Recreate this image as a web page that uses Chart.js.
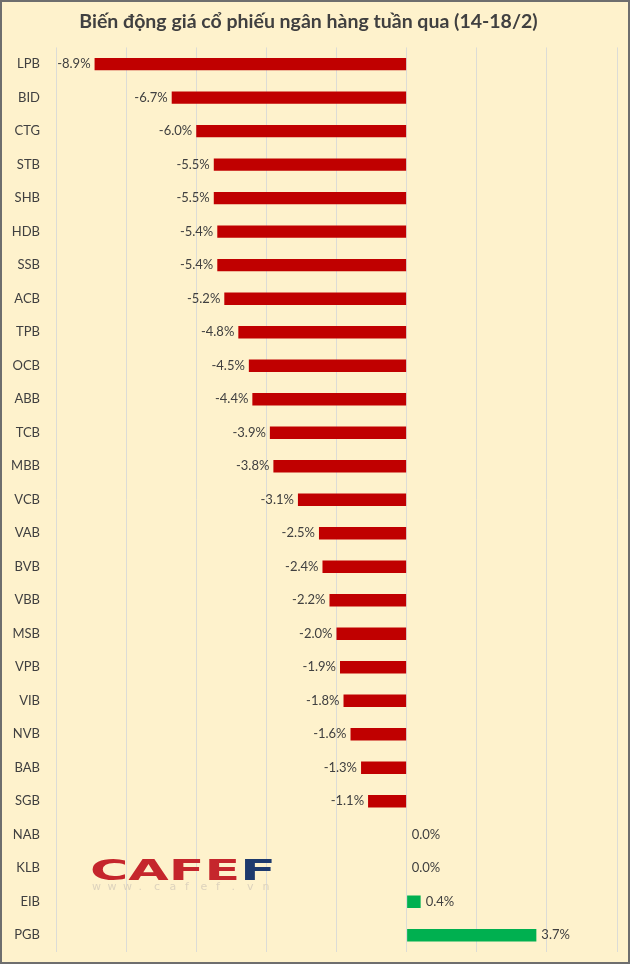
<!DOCTYPE html>
<html>
<head>
<meta charset="utf-8">
<script src="https://cdn.jsdelivr.net/npm/chart.js@4"></script>
<style>
  html, body { margin: 0; padding: 0; background: #fef2cc; }
  #wrap { width: 630px; height: 964px; position: relative; }
</style>
</head>
<body>
<div id="wrap"><canvas id="bankChart" width="630" height="964"></canvas></div>
<script>
// bank tickers, top to bottom
const banks = ['LPB','BID','CTG','STB','SHB','HDB','SSB','ACB','TPB','OCB','ABB','TCB','MBB','VCB',
               'VAB','BVB','VBB','MSB','VPB','VIB','NVB','BAB','SGB','NAB','KLB','EIB','PGB'];
// weekly price change, %
const changes = [-8.9,-6.7,-6.0,-5.5,-5.5,-5.4,-5.4,-5.2,-4.8,-4.5,-4.4,-3.9,-3.8,-3.1,
                 -2.5,-2.4,-2.2,-2.0,-1.9,-1.8,-1.6,-1.3,-1.1,0.0,0.0,0.4,3.7];
const axisMin = -10;
const axisMax = 6;
const axisStep = 2;

const txtColor = '#404040';
const barColors = changes.map(v => v < 0 ? '#c00000' : '#00b050');

// background + frame
const bgPlugin = {
    id: 'bg',
    beforeDraw(chart) {
        const ctx = chart.ctx;
        ctx.save();
        ctx.fillStyle = '#fef2cc';
        ctx.fillRect(0, 0, chart.width, chart.height);
        ctx.restore();
    },
    afterDraw(chart) {
        const ctx = chart.ctx;
        ctx.save();
        ctx.strokeStyle = '#6e6e6e';
        ctx.lineWidth = 2;
        ctx.strokeRect(1, 1, chart.width - 2, chart.height - 2);
        ctx.restore();
    }
};

// CafeF watermark, bottom left
const logoPlugin = {
    id: 'logo',
    beforeDatasetsDraw(chart) {
        const ctx = chart.ctx;
        ctx.save();
        ctx.font = 'bold 30px "DejaVu Sans"';
        ctx.textBaseline = 'alphabetic';
        const parts = [['CAFE', '#c5262c'], ['F', '#1d3a6d']];
        const total = ctx.measureText('CAFEF').width;
        const sx = 186 / total, sy = 0.95;
        ctx.translate(90, 880);
        ctx.scale(sx, sy);
        let x = 0;
        parts.forEach(p => {
            ctx.fillStyle = p[1];
            ctx.fillText(p[0], x, 0);
            x += ctx.measureText(p[0]).width;
        });
        ctx.restore();

        ctx.save();
        ctx.font = '11px "DejaVu Sans"';
        ctx.fillStyle = '#ddd3bd';
        ctx.textBaseline = 'middle';
        const s = 'www.cafef.vn';
        for (let i = 0; i < s.length; i++) {
            ctx.fillText(s[i], 92 + i * 15.5, 887);
        }
        ctx.restore();
    }
};

// value labels at bar ends
const labelPlugin = {
    id: 'valueLabels',
    afterDatasetsDraw(chart) {
        const ctx = chart.ctx;
        const meta = chart.getDatasetMeta(0);
        ctx.save();
        ctx.font = '13px Lato';
        ctx.fillStyle = txtColor;
        ctx.textBaseline = 'middle';
        meta.data.forEach((bar, i) => {
            const v = changes[i];
            const txt = v.toFixed(1) + '%';
            if (v < 0) {
                ctx.textAlign = 'right';
                ctx.fillText(txt, bar.x - 4, bar.y);
            } else {
                ctx.textAlign = 'left';
                ctx.fillText(txt, bar.x + 5, bar.y);
            }
        });
        ctx.restore();
    }
};

new Chart(document.getElementById('bankChart'), {
    type: 'bar',
    data: {
        labels: banks,
        datasets: [{
            data: changes,
            backgroundColor: barColors,
            barPercentage: 0.74,
            categoryPercentage: 0.5,
            borderSkipped: false
        }]
    },
    options: {
        indexAxis: 'y',
        responsive: false,
        animation: false,
        layout: { padding: { left: 0, right: 13, top: 0, bottom: 12 } },
        plugins: {
            legend: { display: false },
            tooltip: { enabled: false },
            title: {
                display: true,
                text: 'Biến động giá cổ phiếu ngân hàng tuần qua (14-18/2)',
                color: txtColor,
                font: { family: 'Lato', size: 19.5, weight: 'bold', lineHeight: 1.2 },
                padding: { top: 10, bottom: 14 }
            }
        },
        scales: {
            x: {
                min: axisMin,
                max: axisMax,
                ticks: { display: false, stepSize: axisStep },
                grid: { color: '#dcdcd6', lineWidth: 1, drawTicks: false },
                border: { display: false },
                afterFit(scale) { scale.height = 0; }
            },
            y: {
                ticks: { color: txtColor, font: { family: 'Lato', size: 13 }, padding: 16 },
                grid: { display: false, drawTicks: false },
                border: { display: false },
                afterFit(scale) {
                    scale.width = 56;
                    scale.paddingTop = 0;
                    scale.paddingBottom = 0;
                }
            }
        }
    },
    plugins: [bgPlugin, logoPlugin, labelPlugin]
});
</script>
</body>
</html>
